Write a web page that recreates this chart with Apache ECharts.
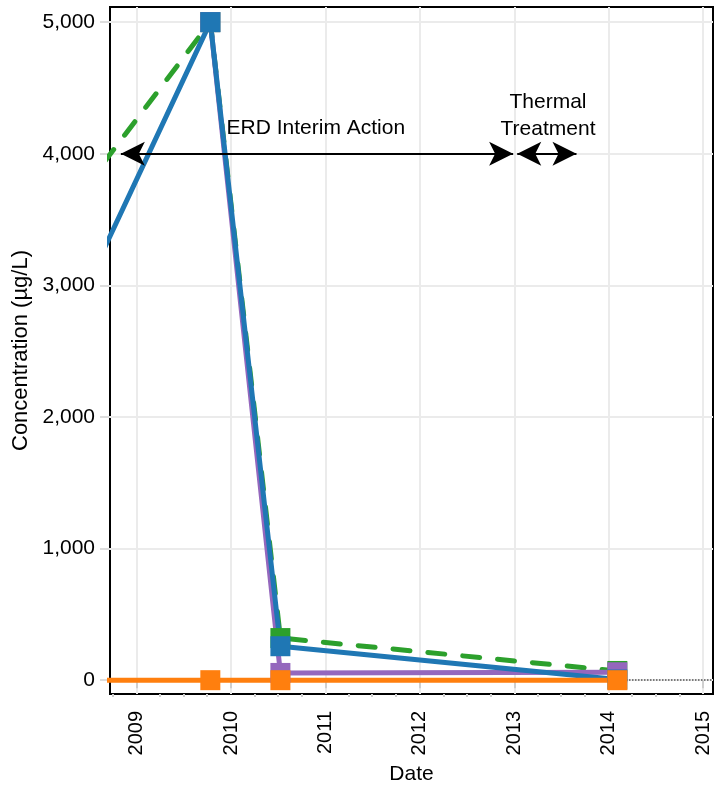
<!DOCTYPE html>
<html>
<head>
<meta charset="utf-8">
<script src="https://cdn.jsdelivr.net/npm/echarts@6/dist/echarts.min.js"></script>
<style>
html, body { margin: 0; padding: 0; background: #fff; }
#main { width: 725px; height: 785px; }
</style>
</head>
<body>
<div id="main"></div>
<script>
// sampling dates, shared by every well
var sampleDates = ['2008-03-15', '2009-10-13', '2010-07-11', '2014-02-03'];
// concentrations (ug/L), null = not sampled
var blueValues = [2580, 5000, 258, 5];
var greenValues = [3505, 5000, 320, 70];
var purpleValues = [null, 5000, 55, 60];
var orangeValues = [0, 0, 0, 0];

var yTicks = [0, 1000, 2000, 3000, 4000, 5000];
var yRange = [-105, 5115];
var xRange = ['2008-09-20', '2015-02-08'];
var xTicks = ['2009-01-01', '2010-01-01', '2011-01-01', '2012-01-01', '2013-01-01', '2014-01-01', '2015-01-01'];
var xMinorTicks = ['2008-10-01',
    '2009-04-01', '2009-07-01', '2009-10-01',
    '2010-04-01', '2010-07-01', '2010-10-01',
    '2011-04-01', '2011-07-01', '2011-10-01',
    '2012-04-01', '2012-07-01', '2012-10-01',
    '2013-04-01', '2013-07-01', '2013-10-01',
    '2014-04-01', '2014-07-01', '2014-10-01'];

// annotations (arrow tips, label spots)
var erdArrow = ['2008-11-01', '2012-12-27'];
var thermalArrow = ['2013-01-12', '2013-08-29'];
var arrowLevel = 4000;
var erdLabel = ['2010-11-25', 4195, 'ERD Interim Action'];
var thermalLabel = ['2013-05-11', 4290, 'Thermal\nTreatment'];

var FONT = '"Liberation Sans", Arial, sans-serif';

// dates go on a plain value axis as millisecond timestamps
function t(s) { return +echarts.time.parse(s); }
function toTime(list) { return list.map(t); }

function pairs(values) {
    var out = [];
    for (var i = 0; i < values.length; i++) {
        if (values[i] !== null) out.push([t(sampleDates[i]), values[i]]);
    }
    return out;
}

function well(name, color, values, dashed) {
    return {
        name: name,
        type: 'line',
        data: pairs(values),
        symbol: 'rect',
        symbolSize: 20,
        showAllSymbol: true,
        itemStyle: { color: color },
        lineStyle: {
            color: color,
            width: 5,
            type: dashed ? [17, 18] : 'solid',
            cap: dashed ? 'round' : 'butt'
        },
        emphasis: { disabled: true },
        silent: true
    };
}

var green = well('green', '#2ca02c', greenValues, true);
// dotted zero reference line, kept under the lines
green.markLine = {
    silent: true,
    z: 1,
    symbol: 'none',
    label: { show: false },
    lineStyle: { type: 'dotted', color: '#555', width: 1.5 },
    data: [{ yAxis: 0 }]
};

var annotations = {
    name: 'notes',
    type: 'line',
    data: [],
    silent: true,
    markLine: {
        silent: true,
        symbol: ['arrow', 'arrow'],
        symbolSize: [18, 24],
        label: { show: false },
        lineStyle: { type: 'solid', color: '#000', width: 2 },
        itemStyle: { color: '#000' },
        data: [
            [{ coord: [t(erdArrow[0]), arrowLevel] }, { coord: [t(erdArrow[1]), arrowLevel] }],
            [{ coord: [t(thermalArrow[0]), arrowLevel] }, { coord: [t(thermalArrow[1]), arrowLevel] }]
        ]
    },
    markPoint: {
        silent: true,
        symbol: 'circle',
        symbolSize: 0,
        label: {
            show: true,
            position: 'inside',
            color: '#000',
            fontSize: 21,
            lineHeight: 27,
            fontFamily: FONT
        },
        data: [
            { coord: [t(erdLabel[0]), erdLabel[1]], label: { formatter: erdLabel[2] } },
            { coord: [t(thermalLabel[0]), thermalLabel[1]], label: { formatter: thermalLabel[2] } }
        ]
    }
};

var majorX = toTime(xTicks);
var minorX = toTime(xMinorTicks);

var option = {
    animation: false,
    backgroundColor: '#fff',
    textStyle: { fontFamily: FONT },
    grid: {
        left: 110, right: 12, top: 7, bottom: 91,
        show: true,
        borderColor: '#000',
        borderWidth: 2,
        outerBoundsMode: 'none'
    },
    xAxis: [{
        type: 'value',
        min: t(xRange[0]),
        max: t(xRange[1]),
        name: 'Date',
        nameLocation: 'middle',
        nameGap: 64,
        nameTextStyle: { fontSize: 21, color: '#000', fontFamily: FONT },
        axisLine: { show: false },
        axisTick: { show: true, length: 8, customValues: majorX, lineStyle: { color: '#cfcfcf', width: 2 } },
        axisLabel: {
            rotate: 90,
            margin: 17,
            fontSize: 20,
            color: '#000',
            fontFamily: FONT,
            customValues: majorX,
            formatter: function (v) { return String(new Date(v).getFullYear()); }
        },
        splitLine: { show: true, lineStyle: { color: '#ebebeb', width: 2 } }
    }, {
        // quarter ticks only
        type: 'value',
        position: 'bottom',
        min: t(xRange[0]),
        max: t(xRange[1]),
        axisLine: { show: false },
        axisTick: { show: true, length: 3, customValues: minorX, lineStyle: { color: '#cfcfcf', width: 2 } },
        axisLabel: { show: false, customValues: minorX },
        splitLine: { show: false }
    }],
    yAxis: {
        type: 'value',
        min: yRange[0],
        max: yRange[1],
        name: 'Concentration (µg/L)',
        nameLocation: 'middle',
        nameGap: 75,
        nameTextStyle: { fontSize: 22, color: '#000', fontFamily: FONT },
        axisLine: { show: false },
        axisTick: { show: true, length: 10, customValues: yTicks, lineStyle: { color: '#dcdcdc', width: 2 } },
        axisLabel: {
            margin: 15,
            fontSize: 21,
            color: '#000',
            fontFamily: FONT,
            customValues: yTicks,
            formatter: function (v) { return v.toLocaleString('en-US'); }
        },
        splitLine: { show: true, lineStyle: { color: '#ebebeb', width: 2 } }
    },
    series: [
        green,
        well('purple', '#9467bd', purpleValues, false),
        well('blue', '#1f77b4', blueValues, false),
        well('orange', '#ff7f0e', orangeValues, false),
        annotations
    ]
};

var myChart = echarts.init(document.getElementById('main'), null, { renderer: 'canvas' });
myChart.setOption(option);
</script>
</body>
</html>
